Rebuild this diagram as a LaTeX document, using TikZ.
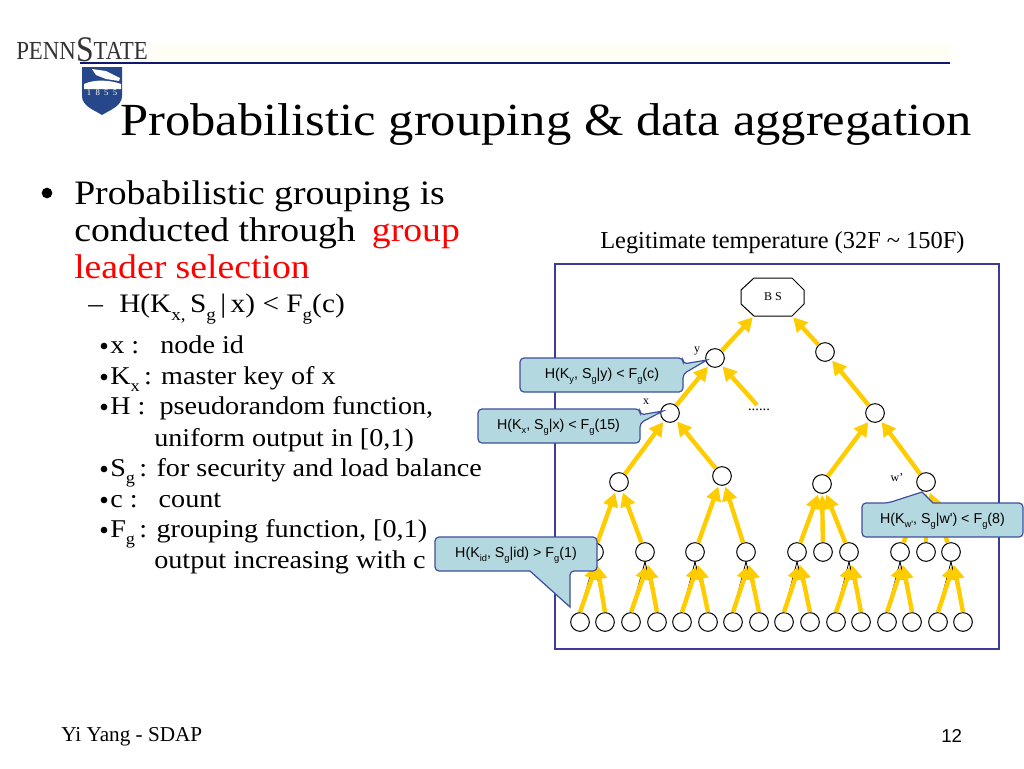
\documentclass[tikz,border=0pt]{standalone}
\usepackage{fontspec}
\setmainfont{Liberation Serif}
\newfontfamily\bodyfont[FakeStretch=1.1]{Liberation Serif}
\newfontfamily\logofont[FakeStretch=0.88]{Liberation Serif}
\newfontfamily\arialfont{Liberation Sans}
\usetikzlibrary{arrows.meta, positioning}
\definecolor{PennNavy}{RGB}{16, 24, 112}
\definecolor{ShieldBlue}{RGB}{38, 72, 138}
\definecolor{FrameBlue}{RGB}{60, 60, 150}
\definecolor{TagFill}{RGB}{180, 216, 224}
\definecolor{TagLine}{RGB}{62, 78, 156}
\definecolor{FlowYellow}{RGB}{255, 204, 0}
\newcommand{\lowidx}[1]{\raisebox{-.3em}{\scalebox{.65}{#1}}}

\begin{document}
\begin{tikzpicture}[
    x=0.75pt, y=-0.75pt,
    sensor/.style={circle, draw=black, fill=white, line width=0.75pt, minimum size=14pt, inner sep=0pt},
    flow/.style={draw=FlowYellow, line width=3.3pt, -{Triangle[length=10.5pt, width=11pt]}, shorten >=1pt},
    wire/.style={draw=black, line width=0.6pt},
    tag/.style={draw=TagLine, fill=TagFill, line width=0.9pt, rounded corners=3pt},
    tagtext/.style={font=\arialfont\fontsize{10.7}{12}\selectfont, inner sep=0pt},
    mainline/.style={anchor=base west, inner sep=0pt, font=\bodyfont\fontsize{25.7}{30}\selectfont},
    subline/.style={anchor=base west, inner sep=0pt, font=\bodyfont\fontsize{19.2}{23}\selectfont},
    dotmark/.style={circle, fill=black, minimum size=5pt, inner sep=0pt},
    smalllabel/.style={font=\fontsize{9}{10}\selectfont, inner sep=0pt}
]
\useasboundingbox (0,0) rectangle (1024,768);
\fill[white] (0,0) rectangle (1024,768);

% Header
\fill[yellow!4] (150,44) rectangle (950,62);
\draw[PennNavy, line width=2pt] (80,63) -- (950,63);
\node[anchor=base west, inner sep=0pt, font=\logofont\fontsize{19.5}{24}\selectfont, text=black!80] (penn) at (16,59) {PENN\raisebox{-.1em}{\fontsize{27}{27}\selectfont S}TATE};
\fill[ShieldBlue] (82,67) -- (122,67) -- (122,96) .. controls (122,106) and (110,110) .. (102,115) .. controls (94,110) and (82,106) .. (82,96) -- cycle;
\fill[white] (84,84) .. controls (95,79) and (110,80) .. (121,84) -- (121,89) -- (84,89) -- cycle;
\fill[white] (92,69) -- (106,71) -- (120,78) -- (119,81) -- (106,79) -- (96,75) -- cycle;
\node[font=\fontsize{6.5}{7}\selectfont, text=white, inner sep=0pt] (year) at (102,93) {1\ \ 8\ \ 5\ \ 5};
\node[anchor=base west, inner sep=0pt, font=\bodyfont\fontsize{34.5}{40}\selectfont] (title) at (120,135) {Probabilistic grouping \& data aggregation};

% Left text
\node[dotmark, minimum size=8pt] (b0) at (47,193) {};
\node[mainline] (l1) at (74,204) {Probabilistic grouping is};
\node[mainline] (l2) at (74,241) {conducted through\hspace{5pt} \textcolor{red}{group}};
\node[mainline, text=red] (l3) at (74,278) {leader selection};
\node[subline, font=\bodyfont\fontsize{20}{24}\selectfont] (dash) at (88,312) {–};
\node[subline, font=\bodyfont\fontsize{20}{24}\selectfont] (l4) at (119,312) {H(K\lowidx{x,}\,S\lowidx{g}\,|\,x) < F\lowidx{g}(c)};

\foreach \name/\ypos in {s1/353, s2/384, s3/414, s5/476, s6/507, s7/537} {
    \node[dotmark] (\name) at (104,\ypos-7) {};
}
\node[subline] (t1) at (110,353) {x :\ \ \ node id};
\node[subline] (t2) at (110,384) {K\lowidx{x}\,: master key of x};
\node[subline] (t3) at (110,414) {H :\ \ pseudorandom function,};
\node[subline] (t4) at (154,446) {uniform output in [0,1)};
\node[subline] (t5) at (110,476) {S\lowidx{g}\,: for security and load balance};
\node[subline] (t6) at (110,507) {c :\ \ \ count};
\node[subline] (t7) at (110,537) {F\lowidx{g}\,: grouping function, [0,1)};
\node[subline] (t8) at (154,568) {output increasing with c};

% Frame
\node[anchor=base west, inner sep=0pt, font=\fontsize{18.3}{21}\selectfont] (legit) at (600,248) {Legitimate temperature (32F \textasciitilde\ 150F)};
\draw[FrameBlue, line width=1.1pt] (555,264) rectangle (999,649);

% Tree nodes
\draw[line width=0.75pt, fill=white] (754,278) -- (792,278) -- (804,290) -- (804,304) -- (792,316) -- (754,316) -- (741,304) -- (741,290) -- cycle;
\node[smalllabel, minimum width=28.5pt, minimum height=28.5pt] (bs) at (773,297) {B S};
\node[sensor] (y) at (715,358) {};
\node[sensor] (m1) at (825,352) {};
\node[sensor] (x) at (670,413) {};
\node[sensor] (m2) at (875,413) {};
\node[sensor] (p1) at (619,482) {};
\node[sensor] (p2) at (722,476) {};
\node[sensor] (p3) at (822,484) {};
\node[sensor] (w) at (926,482) {};
\foreach \xpos [count=\i] in {594,645,695,746,797,823,849,900,926,951} {
    \node[sensor] (q\i) at (\xpos,552) {};
}
\foreach \xpos [count=\i] in {580,605,631,657,682,708,733,759,784,810,836,861,887,912,938,963} {
    \node[sensor] (r\i) at (\xpos,622) {};
}
\coordinate (more) at (757,405);

% Arrows
\foreach \kid/\up in {r1/q1, r2/q1, r3/q2, r4/q2, r5/q3, r6/q3, r7/q4, r8/q4, r9/q5, r10/q5, r11/q7, r12/q7, r13/q8, r14/q8, r15/q10, r16/q10} {
    \draw[wire] (\kid.north) -- (\up.south);
    \draw[flow] (\kid.north) -- ([xshift=2.2pt, yshift=-1.5pt]\up.south);
}
\foreach \kid/\up in {q1/p1, q2/p1, q3/p2, q4/p2, q5/p3, q6/p3, q7/p3, q8/w, q9/w, q10/w, p1/x, p2/x, p3/m2, w/m2, x/y, more/y, m2/m1} {
    \draw[flow] (\kid) -- (\up);
}
\draw[flow] (y) -- (bs.south west);
\draw[flow] (m1) -- (bs.south east);

% Labels
\node[smalllabel] (ylab) at (697,351) {y};
\node[smalllabel] (xlab) at (646,402) {x};
\node[smalllabel] (wlab) at (897,478) {w'};
\node[smalllabel, font=\fontsize{11}{12}\selectfont] (dots) at (759,410) {......};

% Callouts
\draw[tag] (520,358) -- (683,358) -- (683,364) [sharp corners] -- (707,360) [rounded corners=3pt] -- (683,374) -- (683,392) -- (520,392) -- cycle;
\node[tagtext] (ty) at (602,376) {H(K\lowidx{y}, S\lowidx{g}|y) < F\lowidx{g}(c)};
\draw[tag] (478,409) -- (640,409) -- (640,415) [sharp corners] -- (663,411) [rounded corners=3pt] -- (640,423) -- (640,443) -- (478,443) -- cycle;
\node[tagtext] (tx) at (558.5,427) {H(K\lowidx{x}, S\lowidx{g}|x) < F\lowidx{g}(15)};
\draw[tag] (862,503) -- (888,503) [sharp corners] -- (922,492) -- (933,503) [rounded corners=3pt] -- (1023,503) -- (1023,537) -- (862,537) -- cycle;
\node[tagtext] (tw) at (942.5,521) {H(K\lowidx{w'}, S\lowidx{g}|w') < F\lowidx{g}(8)};
\draw[tag] (435,537) -- (597,537) -- (597,571) -- (570,571) [sharp corners] -- (570,607) -- (530,571) [rounded corners=3pt] -- (435,571) -- cycle;
\node[tagtext] (tid) at (516,555) {H(K\lowidx{id}, S\lowidx{g}|id) > F\lowidx{g}(1)};

% Footer
\node[anchor=base west, inner sep=0pt, font=\fontsize{15.9}{18}\selectfont] (foot) at (61,741) {Yi Yang - SDAP};
\node[anchor=base west, inner sep=0pt, font=\arialfont\fontsize{14}{16}\selectfont] (page) at (941,742) {12};

\end{tikzpicture}
\end{document}
